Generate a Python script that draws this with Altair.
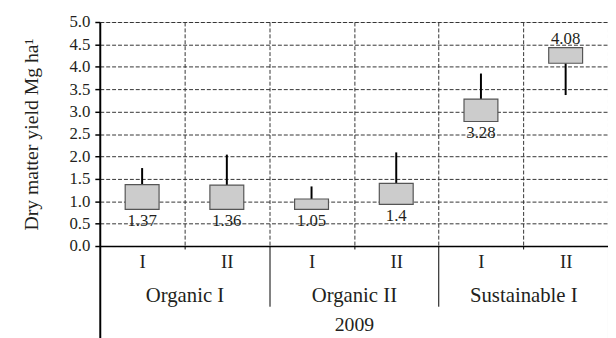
import altair as alt
import pandas as pd

# ---- data ----
groups = ["Organic I", "Organic II", "Sustainable I"]
subs = ["I", "II", "I", "II", "I", "II"]
box_low = [0.82, 0.82, 0.82, 0.93, 2.78, 4.08]
box_high = [1.37, 1.36, 1.05, 1.40, 3.28, 4.43]
whisker_end = [1.74, 2.04, 1.33, 2.09, 3.85, 3.37]
value_labels = ["1.37", "1.36", "1.05", "1.4", "3.28", "4.08"]
label_side = ["below", "below", "below", "below", "below", "above"]
year = "2009"
y_ticks = [0.0, 0.5, 1.0, 1.5, 2.0, 2.5, 3.0, 3.5, 4.0, 4.5, 5.0]

FONT = "Liberation Serif"
INK = "#231f20"
GRID = "#333333"

n = len(subs)
df = pd.DataFrame({
    "pos": [i + 0.5 for i in range(n)],
    "low": box_low,
    "high": box_high,
    "wend": whisker_end,
    "label": value_labels,
    "side": label_side,
})
df["wstart"] = [h if w > h else l for l, h, w in zip(box_low, box_high, whisker_end)]
df["anchor"] = [l if s == "below" else h for l, h, s in zip(box_low, box_high, label_side)]

xs = alt.Scale(domain=[0, n], nice=False, zero=False)
ys = alt.Scale(domain=[0, 5], nice=False, zero=False)

sub_expr = "[" + ",".join("'%s'" % s for s in subs) + "][floor(datum.value)]"
grp_expr = "[" + ",".join("'%s'" % g for g in groups) + "][floor(datum.value / 2)]"

y_axis = alt.Axis(
    values=y_ticks, format=".1f",
    grid=True, gridDash=[4, 2], gridColor=GRID, gridWidth=1,
    domainColor="black", domainWidth=2,
    tickColor="black", tickSize=5, tickWidth=1.5,
    labelFont=FONT, labelFontSize=17, labelColor=INK, labelPadding=5,
    title="Dry matter yield Mg ha¹", titleFont=FONT, titleFontSize=20,
    titleFontWeight="normal", titleColor=INK,
    titleX=-69, titleY=113.5, titleBaseline="middle",
)

# whiskers + grid/tick axis + y axis
whisk = alt.Chart(df).mark_rule(color="black", strokeWidth=2).encode(
    x=alt.X("pos:Q", scale=xs, axis=alt.Axis(
        orient="bottom",
        values=list(range(n + 1)),
        labels=False, title=None,
        grid=True, gridDash=[4, 2], gridColor=GRID, gridWidth=1,
        gridOpacity={"condition": {"test": "datum.value == 0", "value": 0}, "value": 1},
        domain=True, domainColor="black", domainWidth=1.5,
        ticks=True, tickColor="black",
        tickSize={"condition": [
            {"test": "datum.value == 0 || datum.value == %d" % n, "value": 95},
            {"test": "datum.value % 2 == 0", "value": 61},
        ], "value": 3},
        tickWidth={"condition": {"test": "datum.value == 0", "value": 2}, "value": 1},
    )),
    y=alt.Y("wstart:Q", scale=ys, axis=y_axis),
    y2="wend:Q",
)

boxes = alt.Chart(df).transform_calculate(
    x1="datum.pos - 0.2", x2="datum.pos + 0.2"
).mark_rect(fill="#cccccc", stroke="#555555", strokeWidth=1.2).encode(
    x=alt.X("x1:Q", scale=xs, axis=alt.Axis(
        orient="bottom",
        values=[i + 0.5 for i in range(n)],
        labelExpr=sub_expr,
        domain=False, ticks=False, grid=False, title=None,
        labelFont=FONT, labelFontSize=19, labelColor=INK,
        labelBaseline="middle", labelPadding=16,
    )),
    x2="x2:Q",
    y=alt.Y("low:Q", scale=ys, axis=y_axis),
    y2="high:Q",
)

below = alt.Chart(df).transform_filter("datum.side == 'below'").mark_text(
    baseline="top", dy=4, font=FONT, fontSize=17, color=INK
).encode(
    x=alt.X("pos:Q", scale=xs, axis=alt.Axis(
        orient="bottom",
        values=[2 * i + 1 for i in range(len(groups))],
        labelExpr=grp_expr,
        domain=False, ticks=False, grid=False,
        labelFont=FONT, labelFontSize=21, labelColor=INK,
        labelBaseline="middle", labelPadding=50,
        title=year, titleFont=FONT, titleFontSize=20, titleFontWeight="normal",
        titleColor=INK, titleBaseline="middle", titleY=80,
    )),
    y=alt.Y("anchor:Q", scale=ys, axis=y_axis),
    text="label:N",
)

above = alt.Chart(df).transform_filter("datum.side == 'above'").mark_text(
    baseline="alphabetic", dy=-4, font=FONT, fontSize=17, color=INK
).encode(
    x=alt.X("pos:Q", scale=xs, axis=None),
    y=alt.Y("anchor:Q", scale=ys, axis=y_axis),
    text="label:N",
)

chart = alt.layer(whisk, boxes, below, above).resolve_axis(x="independent").properties(
    width=515, height=227,
    autosize=alt.AutoSizeParams(type="none"),
    padding={"left": 93, "top": 12, "right": 0, "bottom": 91},
).configure_view(stroke=None).configure(
    background="white", font=FONT
).configure_axis(
    labelFont=FONT, titleFont=FONT
).configure_text(font=FONT)

chart.save("out.html", embed_options={"renderer": "svg", "actions": False})
